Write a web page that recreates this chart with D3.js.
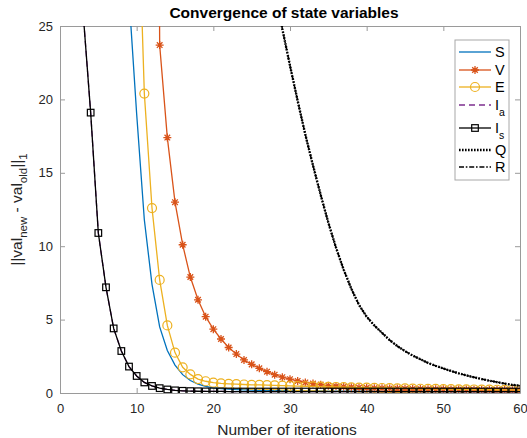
<!DOCTYPE html>
<meta charset="utf-8">
<style>
body{
    margin:0;
    background:#fff;
    font-family: "Liberation Sans", Arial, sans-serif;
}
.axis text{
    font-size:13px;
    fill:#262626;
    font-family: "Liberation Sans", Arial, sans-serif;
}
.axis path, .axis line{
    stroke:#9a9a9a;
}
.title{
    font-size:15.5px;
    font-weight:bold;
    fill:#000;
}
.label{
    font-size:15.5px;
    fill:#262626;
}
.legend text{
    font-size:14.5px;
    fill:#000;
}
</style>
<svg width="527" height="438"></svg>
<script src="https://d3js.org/d3.v7.min.js"></script>
<script>

var iterations = d3.range(1, 61);

// values, iteration 1..60 (early ones are off the top of the axes)
var sVals = [900, 600, 400, 260, 170, 110, 70, 45, 27, 19,
    11.8, 7.4, 4.5, 2.9, 1.9, 1.25, 0.85, 0.6, 0.45, 0.35,
    0.3, 0.26, 0.23, 0.21, 0.19, 0.18, 0.17, 0.16, 0.16, 0.15,
    0.15, 0.14, 0.14, 0.14, 0.13, 0.13, 0.13, 0.12, 0.12, 0.12,
    0.12, 0.11, 0.11, 0.11, 0.11, 0.11, 0.1, 0.1, 0.1, 0.1,
    0.1, 0.1, 0.1, 0.1, 0.09, 0.09, 0.09, 0.09, 0.09, 0.09];

var vVals = [2000, 1500, 1100, 800, 600, 450, 340, 260, 210, 180,
    160, 140, 23.7, 17.4, 13.0, 10.1, 7.9, 6.35, 5.2, 4.35,
    3.68, 3.1, 2.65, 2.25, 1.95, 1.68, 1.45, 1.25, 1.08, 0.94,
    0.82, 0.72, 0.64, 0.57, 0.5, 0.46, 0.42, 0.39, 0.37, 0.35,
    0.33, 0.32, 0.31, 0.3, 0.29, 0.28, 0.27, 0.26, 0.25, 0.25,
    0.24, 0.23, 0.23, 0.22, 0.21, 0.21, 0.2, 0.2, 0.19, 0.19];

var eVals = [1200, 800, 500, 330, 220, 150, 100, 70, 50, 37,
    20.4, 12.6, 7.7, 4.6, 2.75, 1.75, 1.27, 0.95, 0.8, 0.7,
    0.65, 0.62, 0.6, 0.58, 0.56, 0.55, 0.53, 0.52, 0.5, 0.49,
    0.47, 0.46, 0.45, 0.43, 0.42, 0.41, 0.4, 0.38, 0.37, 0.36,
    0.35, 0.34, 0.33, 0.32, 0.31, 0.3, 0.29, 0.28, 0.28, 0.27,
    0.26, 0.25, 0.25, 0.24, 0.23, 0.23, 0.22, 0.21, 0.21, 0.2];

var iaVals = [150, 65, 26, 19.1, 10.9, 7.2, 4.4, 2.86, 1.8, 1.16,
    0.72, 0.48, 0.33, 0.24, 0.18, 0.15, 0.13, 0.12, 0.11, 0.11,
    0.11, 0.1, 0.1, 0.1, 0.1, 0.1, 0.1, 0.1, 0.1, 0.1,
    0.1, 0.1, 0.1, 0.1, 0.1, 0.1, 0.1, 0.1, 0.1, 0.1,
    0.1, 0.1, 0.1, 0.1, 0.1, 0.1, 0.1, 0.1, 0.1, 0.1,
    0.1, 0.1, 0.1, 0.1, 0.1, 0.1, 0.1, 0.1, 0.1, 0.1];

var isVals = [150, 65, 26, 19.1, 10.9, 7.2, 4.4, 2.86, 1.8, 1.16,
    0.72, 0.48, 0.33, 0.24, 0.18, 0.15, 0.13, 0.12, 0.11, 0.11,
    0.11, 0.1, 0.1, 0.1, 0.1, 0.1, 0.1, 0.1, 0.1, 0.1,
    0.1, 0.1, 0.1, 0.1, 0.1, 0.1, 0.1, 0.1, 0.1, 0.1,
    0.1, 0.1, 0.1, 0.1, 0.1, 0.1, 0.1, 0.1, 0.1, 0.1,
    0.1, 0.1, 0.1, 0.1, 0.1, 0.1, 0.1, 0.1, 0.1, 0.1];

var qVals = [3000, 2500, 2000, 1600, 1300, 1050, 850, 700, 570, 460,
    380, 310, 250, 205, 170, 140, 110, 97, 85, 75,
    66, 58, 51, 45, 40, 35.5, 31.5, 28, 24.8, 22.3,
    19.9, 17.6, 15.5, 13.5, 11.6, 9.9, 8.4, 7.1, 6.0, 5.2,
    4.6, 4.1, 3.6, 3.2, 2.85, 2.55, 2.3, 2.05, 1.85, 1.67,
    1.5, 1.34, 1.2, 1.07, 0.95, 0.84, 0.74, 0.64, 0.55, 0.5];

var rVals = [3000, 2500, 2000, 1600, 1300, 1050, 850, 700, 570, 460,
    380, 310, 250, 205, 170, 140, 110, 97, 85, 75,
    66, 58, 51, 45, 40, 35.5, 31.5, 28, 24.8, 22.3,
    19.9, 17.6, 15.5, 13.5, 11.6, 9.9, 8.4, 7.1, 6.0, 5.2,
    4.6, 4.1, 3.6, 3.2, 2.85, 2.55, 2.3, 2.05, 1.85, 1.67,
    1.5, 1.34, 1.2, 1.07, 0.95, 0.84, 0.74, 0.64, 0.55, 0.5];

var xTicks = [0, 10, 20, 30, 40, 50, 60];
var yTicks = [0, 5, 10, 15, 20, 25];

var series = [
    {name:'S', sub:'', values:sVals, color:'#0072BD', dash:null, width:1.3, marker:null},
    {name:'V', sub:'', values:vVals, color:'#D95319', dash:null, width:1.3, marker:'star'},
    {name:'E', sub:'', values:eVals, color:'#EDB120', dash:null, width:1.3, marker:'circle'},
    {name:'I', sub:'a', values:iaVals, color:'#7E2F8E', dash:'6,4', width:1.3, marker:null},
    {name:'I', sub:'s', values:isVals, color:'#000', dash:null, width:1.3, marker:'square'},
    {name:'Q', sub:'', values:qVals, color:'#000', dash:'1.6,1.4', width:2.4, marker:null},
    {name:'R', sub:'', values:rVals, color:'#000', dash:'5,1.8,1.6,1.8', width:1.5, marker:null}
];

var svg = d3.select('svg');
var plotLeft = 60, plotRight = 520, plotTop = 26, plotBottom = 393;

var x = d3.scaleLinear().domain([0, 60]).range([plotLeft, plotRight]);
var y = d3.scaleLinear().domain([0, 25]).range([plotBottom, plotTop]);

svg.append('clipPath')
    .attr('id', 'plot-clip')
    .append('rect')
    .attr('x', plotLeft).attr('y', plotTop)
    .attr('width', plotRight - plotLeft).attr('height', plotBottom - plotTop);

// axes, MATLAB style ticks pointing inward
svg.append('g')
    .attr('class', 'axis')
    .attr('transform', 'translate(0,' + plotBottom + ')')
    .call(d3.axisBottom(x).tickValues(xTicks).tickSizeInner(-5).tickSizeOuter(0).tickPadding(11));

svg.append('g')
    .attr('class', 'axis')
    .attr('transform', 'translate(0,' + plotTop + ')')
    .call(d3.axisTop(x).tickValues(xTicks).tickSizeInner(-5).tickSizeOuter(0).tickFormat(''));

svg.append('g')
    .attr('class', 'axis')
    .attr('transform', 'translate(' + plotLeft + ',0)')
    .call(d3.axisLeft(y).tickValues(yTicks).tickSizeInner(-5).tickSizeOuter(0).tickPadding(7));

svg.append('g')
    .attr('class', 'axis')
    .attr('transform', 'translate(' + plotRight + ',0)')
    .call(d3.axisRight(y).tickValues(yTicks).tickSizeInner(-5).tickSizeOuter(0).tickFormat(''));

var line = d3.line()
    .x(function(d){ return x(d.it); })
    .y(function(d){ return y(d.v); });

var star = 'M-4,0H4M0,-4V4M-2.8,-2.8L2.8,2.8M-2.8,2.8L2.8,-2.8';

function drawMarker(sel, s){
    if (s.marker == 'circle'){
        sel.append('circle').attr('r', 4.5)
            .attr('fill', 'none').attr('stroke', s.color).attr('stroke-width', 1.2);
    } else if (s.marker == 'square'){
        sel.append('rect').attr('x', -3.3).attr('y', -3.3)
            .attr('width', 6.6).attr('height', 6.6)
            .attr('fill', 'none').attr('stroke', s.color).attr('stroke-width', 1.2);
    } else if (s.marker == 'star'){
        sel.append('path').attr('d', star)
            .attr('fill', 'none').attr('stroke', s.color).attr('stroke-width', 1.3);
    }
}

var plot = svg.append('g').attr('clip-path', 'url(#plot-clip)');

series.forEach(function(s){
    var pts = iterations.map(function(it, i){ return {it:it, v:s.values[i]}; });
    var g = plot.append('g');
    g.append('path')
        .datum(pts)
        .attr('d', line)
        .attr('fill', 'none')
        .attr('stroke', s.color)
        .attr('stroke-width', s.width)
        .attr('stroke-dasharray', s.dash);
    if (s.marker){
        g.selectAll('g.mk')
            .data(pts.filter(function(d){ return d.v <= 25; }))
            .enter()
            .append('g')
            .attr('class', 'mk')
            .attr('transform', function(d){ return 'translate(' + x(d.it) + ',' + y(d.v) + ')'; })
            .each(function(){ drawMarker(d3.select(this), s); });
    }
});

// title and labels
svg.append('text')
    .attr('class', 'title')
    .attr('x', 284).attr('y', 18)
    .attr('text-anchor', 'middle')
    .text('Convergence of state variables');

svg.append('text')
    .attr('class', 'label')
    .attr('x', 287).attr('y', 435)
    .attr('text-anchor', 'middle')
    .text('Number of iterations');

var yl = svg.append('text')
    .attr('class', 'label')
    .attr('text-anchor', 'middle')
    .attr('transform', 'translate(22,' + ((plotTop + plotBottom) / 2) + ') rotate(-90)');
yl.append('tspan').text('||val');
yl.append('tspan').attr('dy', 4.5).attr('font-size', 11.5).text('new');
yl.append('tspan').attr('dy', -4.5).text(' - val');
yl.append('tspan').attr('dy', 4.5).attr('font-size', 11.5).text('old');
yl.append('tspan').attr('dy', -4.5).text('||');
yl.append('tspan').attr('dy', 4.5).attr('font-size', 11.5).text('1');

// legend
var legendRows = [52, 70, 87, 105, 128, 150, 167];
var legend = svg.append('g').attr('class', 'legend');
legend.append('rect')
    .attr('x', 455).attr('y', 40)
    .attr('width', 54).attr('height', 140)
    .attr('fill', '#fff')
    .attr('stroke', '#a8a8a8');

series.forEach(function(s, i){
    var ly = legendRows[i];
    legend.append('line')
        .attr('x1', 459).attr('x2', 491)
        .attr('y1', ly).attr('y2', ly)
        .attr('stroke', s.color)
        .attr('stroke-width', s.width)
        .attr('stroke-dasharray', s.dash);
    if (s.marker){
        var m = legend.append('g').attr('transform', 'translate(475,' + ly + ')');
        drawMarker(m, s);
    }
    var t = legend.append('text')
        .attr('x', 495).attr('y', ly + 5)
        .text(s.name);
    if (s.sub){
        t.append('tspan').attr('dy', 6).attr('font-size', 10.5).text(s.sub);
    }
});

</script>
